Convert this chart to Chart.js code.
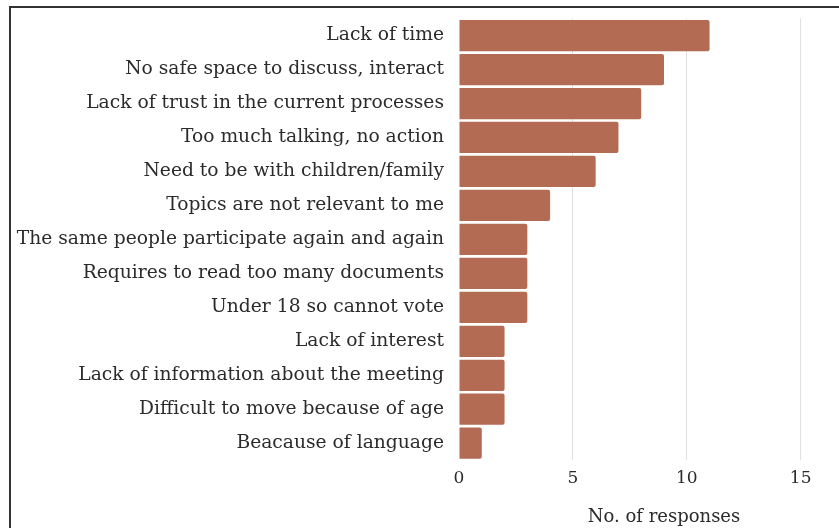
<!DOCTYPE html>
<html>
<head>
<meta charset="utf-8">
<script src="https://cdn.jsdelivr.net/npm/chart.js@4"></script>
<style>
  html, body { margin: 0; padding: 0; background: #fff; overflow: hidden; }
  #wrap { position: absolute; left: 0; top: 0; width: 880px; height: 528px; }
  #frame { position: absolute; left: 9px; top: 6px; width: 900px; height: 600px;
           border-top: 2px solid #333; border-left: 2px solid #333; pointer-events: none; }
</style>
</head>
<body>
<div id="wrap"><canvas id="reasonsChart"></canvas></div>
<div id="frame"></div>
<script>
// Reasons for not taking part, and how many people gave each one
const reasons = [
    'Lack of time',
    'No safe space to discuss, interact',
    'Lack of trust in the current processes',
    'Too much talking, no action',
    'Need to be with children/family',
    'Topics are not relevant to me',
    'The same people participate again and again',
    'Requires to read too many documents',
    'Under 18 so cannot vote',
    'Lack of interest',
    'Lack of information about the meeting',
    'Difficult to move because of age',
    'Beacause of language'
];
const responses = [11, 9, 8, 7, 6, 4, 3, 3, 3, 2, 2, 2, 1];
const xTickValues = [0, 5, 10, 15];

const fontFamily = "'DejaVu Serif', serif";
const textColor = '#2b2b2b';

const ctx = document.getElementById('reasonsChart').getContext('2d');

new Chart(ctx, {
    type: 'bar',
    data: {
        labels: reasons,
        datasets: [{
            label: 'No. of responses',
            data: responses,
            backgroundColor: '#b46b53',
            borderRadius: 2,
            borderSkipped: 'start',
            barPercentage: 0.92,
            categoryPercentage: 1.0
        }]
    },
    options: {
        indexAxis: 'y',
        responsive: true,
        maintainAspectRatio: false,
        animation: false,
        layout: {
            padding: { top: 18.6, right: 11, left: 0, bottom: 0 }
        },
        scales: {
            x: {
                min: 0,
                max: 18,
                afterBuildTicks: function(scale) {
                    // only keep the labelled ticks
                    scale.ticks = xTickValues.map(v => ({ value: v }));
                },
                grid: {
                    drawTicks: false,
                    color: function(c) {
                        return c.tick && c.tick.value === 0 ? 'rgba(0,0,0,0)' : '#e0e0e0';
                    }
                },
                border: { display: false },
                ticks: {
                    padding: 8.4,
                    color: textColor,
                    font: { family: fontFamily, size: 17 }
                },
                title: {
                    display: true,
                    text: 'No. of responses',
                    color: textColor,
                    padding: { top: 9, bottom: 0 },
                    font: { family: fontFamily, size: 18 }
                }
            },
            y: {
                afterFit: function(scale) {
                    scale.width = 459;
                    // keep the label half-heights from pushing the plot down
                    scale.paddingTop = 0;
                    scale.paddingBottom = 0;
                },
                grid: { display: false, drawTicks: false },
                border: { display: false },
                ticks: {
                    padding: 15,
                    color: textColor,
                    font: { family: fontFamily, size: 18.7 }
                }
            }
        },
        plugins: {
            legend: { display: false },
            tooltip: { enabled: false }
        }
    }
});
</script>
</body>
</html>
